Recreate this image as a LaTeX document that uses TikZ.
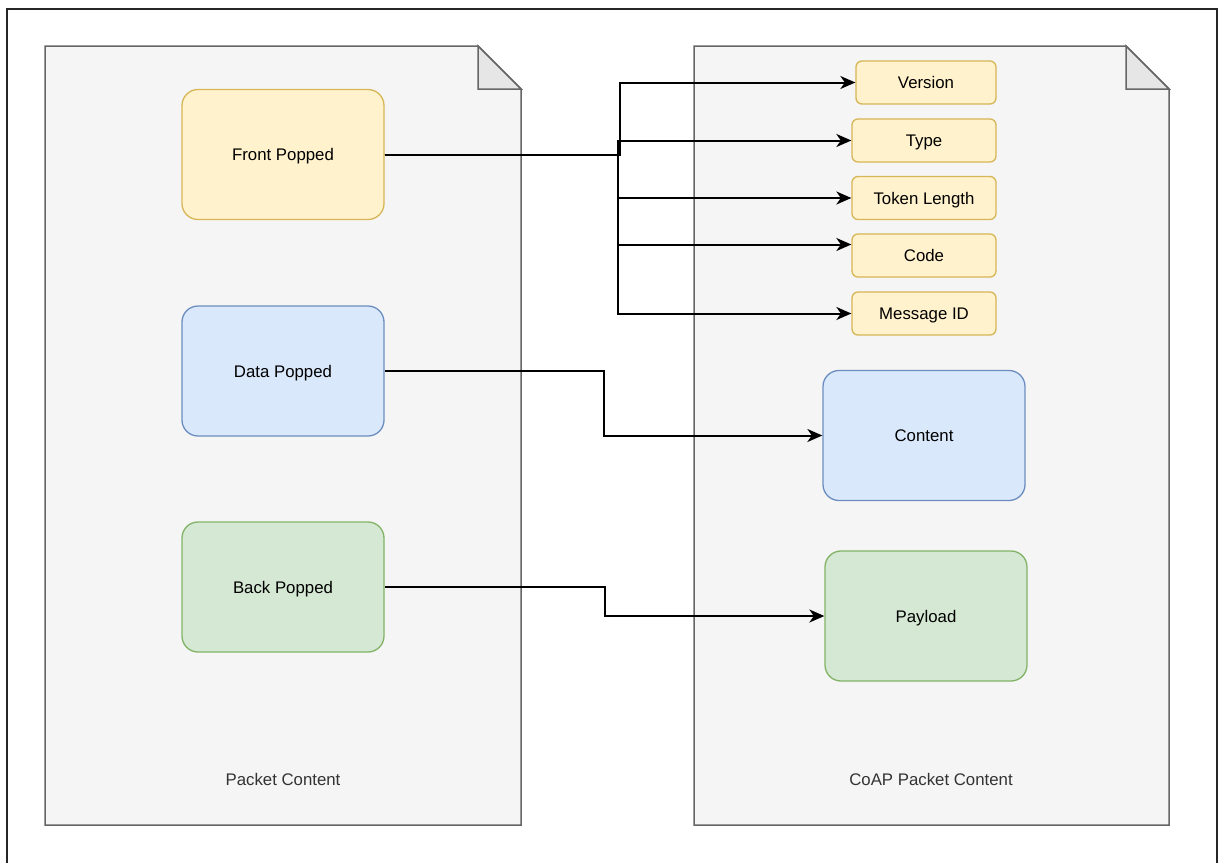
\documentclass[tikz,border=0pt]{standalone}
\usepackage{fontspec}
\setmainfont{Liberation Sans}
\usetikzlibrary{arrows.meta,calc}
\definecolor{docfill}{HTML}{F5F5F5}
\definecolor{docline}{HTML}{666666}
\definecolor{foldfill}{HTML}{E6E6E6}
\definecolor{yfill}{HTML}{FFF2CC}
\definecolor{yline}{HTML}{D6B656}
\definecolor{bfill}{HTML}{DAE8FC}
\definecolor{bline}{HTML}{6C8EBF}
\definecolor{gfill}{HTML}{D5E8D4}
\definecolor{gline}{HTML}{82B366}
\definecolor{labelgray}{HTML}{333333}
\tikzset{
  doc/.style={fill=docfill,draw=docline,line width=1.5pt,line join=miter},
  fold/.style={fill=foldfill,draw=docline,line width=1.5pt,line join=miter},
  txt/.style={font=\fontsize{16.8}{20}\selectfont,text height=12pt,text depth=0pt},
  bigbox/.style={txt,rounded corners=16pt,line width=1.3pt,minimum width=202pt,minimum height=130pt,inner sep=0pt},
  smallbox/.style={txt,rounded corners=6pt,line width=1.3pt,fill=yfill,draw=yline,minimum height=43pt,inner sep=0pt},
  doclabel/.style={txt,text=labelgray,inner sep=0pt},
  conn/.style={draw=black,line width=2pt,-{Stealth[length=15pt,width=13pt,inset=4.5pt]}}
}
\begin{document}
\begin{tikzpicture}[x=1pt,y=-1pt]
\useasboundingbox (0,0) rectangle (1219,863);
% outer frame
\draw[black!85,line width=1.5pt] (7,863) -- (7,9) -- (1217,9) -- (1217,863);
% left document
\draw[doc] (45,46) -- (478,46) -- (521,89) -- (521,825) -- (45,825) -- cycle;
\draw[fold] (478,46) -- (478,89) -- (521,89) -- cycle;
% right document
\draw[doc] (694,46) -- (1126,46) -- (1169,89) -- (1169,825) -- (694,825) -- cycle;
\draw[fold] (1126,46) -- (1126,89) -- (1169,89) -- cycle;
\node[doclabel] (lbl1) at (283,779) {Packet Content};
\node[doclabel] (lbl2) at (931,779) {CoAP Packet Content};
% left boxes
\node[bigbox,fill=yfill,draw=yline] (fp) at (283,154.5) {Front Popped};
\node[bigbox,fill=bfill,draw=bline] (dp) at (283,371) {Data Popped};
\node[bigbox,fill=gfill,draw=gline] (bp) at (283,587) {Back Popped};
% right small boxes
\node[smallbox,minimum width=140pt] (ver) at (926,82.5) {Version};
\node[smallbox,minimum width=144pt] (typ) at (924,140.5) {Type};
\node[smallbox,minimum width=144pt] (tok) at (924,198) {Token Length};
\node[smallbox,minimum width=144pt] (cod) at (924,255.5) {Code};
\node[smallbox,minimum width=144pt] (mid) at (924,313.5) {Message ID};
% right big boxes
\node[bigbox,fill=bfill,draw=bline] (con) at (924,435.5) {Content};
\node[bigbox,fill=gfill,draw=gline] (pay) at (926,616) {Payload};
% connectors
\draw[conn] (fp.east) -- (620,154.5) |- (ver.west);
\draw[conn] (fp.east) -- (618,154.5) |- (typ.west);
\draw[conn] (fp.east) -- (618,154.5) |- (tok.west);
\draw[conn] (fp.east) -- (618,154.5) |- ([yshift=11pt]cod.west);
\draw[conn] (fp.east) -- (618,154.5) |- (mid.west);
\draw[conn] (dp.east) -- (604,371) |- (con.west);
\draw[conn] (bp.east) -- (605,587) |- (pay.west);
\end{tikzpicture}
\end{document}
